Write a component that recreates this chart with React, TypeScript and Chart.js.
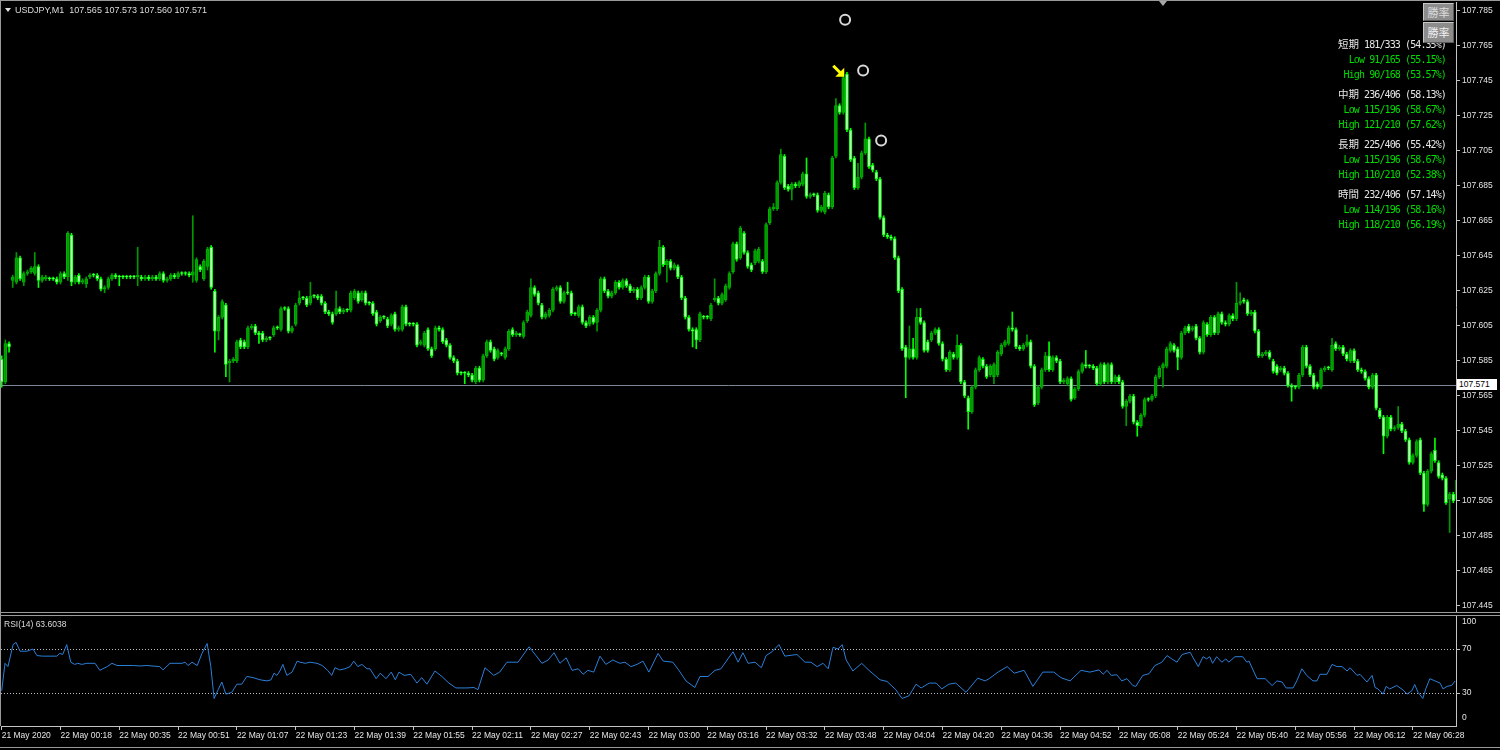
import React, { useEffect, useRef } from 'react';
import { Chart, registerables } from 'chart.js';

Chart.register(...registerables);

// ---------------- data ----------------
const opens = [
107.586,107.573,107.595,107.631,107.630,107.644,107.630,107.635,107.636,107.635,
107.639,107.631,107.632,107.632,107.632,107.632,107.630,107.635,107.633,107.657,
107.630,107.634,107.630,107.629,107.633,107.634,107.634,107.632,107.626,107.627,
107.632,107.634,107.633,107.633,107.633,107.633,107.633,107.633,107.633,107.632,
107.633,107.632,107.633,107.632,107.635,107.631,107.632,107.634,107.633,107.635,
107.635,107.635,107.634,107.631,107.639,107.632,107.639,107.650,107.625,107.602,
107.610,107.617,107.584,107.585,107.585,107.597,107.596,107.593,107.604,107.605,
107.601,107.601,107.597,107.598,107.600,107.604,107.603,107.615,107.615,107.602,
107.606,107.618,107.621,107.621,107.618,107.622,107.622,107.622,107.618,107.613,
107.612,107.612,107.615,107.613,107.614,107.614,107.621,107.624,107.620,107.624,
107.618,107.618,107.613,107.608,107.610,107.609,107.606,107.612,107.603,107.603,
107.616,107.606,107.606,107.606,107.595,107.594,107.603,107.592,107.592,107.604,
107.603,107.597,107.594,107.587,107.585,107.578,107.578,107.578,107.577,107.573,
107.581,107.574,107.588,107.596,107.592,107.587,107.589,107.587,107.592,107.603,
107.600,107.600,107.599,107.608,107.611,107.627,107.624,107.617,107.610,107.611,
107.614,107.626,107.627,107.619,107.624,107.624,107.612,107.611,107.616,107.607,
107.606,107.610,107.607,107.614,107.632,107.625,107.622,107.624,107.630,107.627,
107.631,107.628,107.625,107.626,107.621,107.627,107.633,107.619,107.625,107.635,
107.650,107.640,107.642,107.638,107.639,107.633,107.621,107.610,107.603,107.603,
107.597,107.610,107.610,107.609,107.620,107.621,107.618,107.620,107.627,107.636,
107.652,107.644,107.658,107.647,107.640,107.641,107.642,107.642,107.636,107.664,
107.672,107.672,107.687,107.702,107.685,107.683,107.686,107.685,107.686,107.692,
107.679,107.680,107.680,107.671,107.670,107.680,107.673,107.702,107.731,107.727,
107.749,107.717,107.701,107.684,107.690,107.704,107.712,107.697,107.693,107.689,
107.667,107.657,107.656,107.655,107.644,107.626,107.593,107.587,107.592,107.587,
107.610,107.607,107.596,107.597,107.601,107.603,107.595,107.586,107.580,107.589,
107.587,107.594,107.573,107.564,107.556,107.570,107.580,107.586,107.582,107.577,
107.576,107.577,107.589,107.594,107.595,107.604,107.603,107.593,107.592,107.594,
107.596,107.582,107.561,107.570,107.580,107.588,107.580,107.587,107.585,107.573,
107.572,107.575,107.564,107.569,107.579,107.583,107.582,107.582,107.581,107.572,
107.583,107.573,107.583,107.573,107.576,107.573,107.559,107.562,107.565,107.550,
107.548,107.554,107.563,107.563,107.565,107.576,107.581,107.582,107.591,107.594,
107.592,107.587,107.601,107.605,107.603,107.605,107.598,107.590,107.606,107.600,
107.610,107.601,107.612,107.607,107.606,107.611,107.609,107.618,107.620,107.619,
107.612,107.613,107.602,107.588,107.589,107.590,107.585,107.582,107.580,107.581,
107.578,107.571,107.570,107.570,107.577,107.593,107.582,107.577,107.572,107.570,
107.580,107.581,107.580,107.595,107.592,107.593,107.589,107.585,107.591,107.585,
107.580,107.579,107.575,107.570,107.577,107.557,107.553,107.542,107.553,107.546,
107.547,107.549,107.545,107.540,107.527,107.531,107.540,107.521,107.503,107.522,
107.534,107.527,107.520,107.518,107.506,107.509,107.506];

const closes = [
107.573,107.595,107.593,107.633,107.644,107.632,107.635,107.636,107.638,107.639,
107.631,107.633,107.633,107.632,107.632,107.630,107.635,107.633,107.658,107.630,
107.633,107.630,107.631,107.632,107.634,107.634,107.632,107.626,107.627,107.632,
107.634,107.633,107.633,107.633,107.633,107.633,107.633,107.634,107.632,107.633,
107.632,107.633,107.632,107.635,107.631,107.632,107.634,107.633,107.635,107.635,
107.635,107.634,107.636,107.643,107.637,107.642,107.649,107.627,107.602,107.610,
107.619,107.583,107.585,107.586,107.596,107.593,107.593,107.604,107.605,107.601,
107.600,107.597,107.598,107.598,107.604,107.604,107.615,107.615,107.602,107.604,
107.617,107.621,107.621,107.617,107.622,107.622,107.621,107.618,107.613,107.612,
107.607,107.615,107.613,107.614,107.614,107.624,107.625,107.619,107.624,107.618,
107.618,107.612,107.606,107.610,107.610,107.605,107.611,107.603,107.604,107.616,
107.606,107.606,107.606,107.594,107.596,107.601,107.592,107.588,107.604,107.603,
107.596,107.594,107.587,107.585,107.578,107.578,107.578,107.577,107.574,107.581,
107.574,107.588,107.596,107.591,107.586,107.591,107.589,107.592,107.602,107.600,
107.601,107.600,107.607,107.613,107.627,107.623,107.618,107.610,107.612,107.614,
107.626,107.627,107.619,107.624,107.624,107.612,107.612,107.616,107.607,107.605,
107.610,107.607,107.614,107.632,107.625,107.622,107.624,107.630,107.627,107.631,
107.628,107.625,107.626,107.621,107.627,107.633,107.619,107.625,107.635,107.650,
107.640,107.642,107.638,107.640,107.633,107.621,107.610,107.603,107.602,107.597,
107.612,107.610,107.610,107.617,107.621,107.618,107.623,107.628,107.635,107.652,
107.643,107.661,107.647,107.639,107.637,107.648,107.649,107.636,107.663,107.672,
107.673,107.687,107.703,107.684,107.683,107.686,107.685,107.687,107.692,107.679,
107.680,107.680,107.671,107.673,107.681,107.673,107.701,107.731,107.727,107.747,
107.717,107.700,107.684,107.690,107.704,107.712,107.696,107.694,107.689,107.667,
107.657,107.656,107.655,107.644,107.625,107.592,107.587,107.592,107.587,107.610,
107.607,107.591,107.591,107.601,107.603,107.595,107.586,107.580,107.590,107.587,
107.594,107.573,107.565,107.556,107.570,107.580,107.587,107.582,107.576,107.582,
107.583,107.590,107.594,107.596,107.604,107.603,107.593,107.592,107.594,107.596,
107.582,107.560,107.570,107.580,107.588,107.580,107.587,107.585,107.573,107.574,
107.575,107.563,107.569,107.579,107.583,107.582,107.582,107.581,107.572,107.583,
107.573,107.583,107.573,107.576,107.573,107.559,107.562,107.565,107.550,107.548,
107.554,107.563,107.563,107.565,107.576,107.581,107.583,107.592,107.595,107.591,
107.587,107.601,107.604,107.602,107.604,107.598,107.590,107.607,107.600,107.610,
107.601,107.612,107.607,107.606,107.611,107.609,107.618,107.619,107.619,107.612,
107.613,107.602,107.588,107.589,107.590,107.587,107.579,107.578,107.581,107.578,
107.571,107.570,107.570,107.577,107.593,107.582,107.577,107.570,107.570,107.580,
107.581,107.581,107.594,107.592,107.593,107.589,107.586,107.591,107.585,107.580,
107.579,107.575,107.570,107.577,107.558,107.553,107.542,107.553,107.546,107.547,
107.549,107.545,107.540,107.527,107.531,107.539,107.521,107.503,107.522,107.532,
107.528,107.519,107.518,107.504,107.509,107.505,107.517];

const highs = [
107.588,107.597,107.596,107.634,107.647,107.645,107.636,107.637,107.639,107.647,
107.640,107.634,107.634,107.633,107.633,107.633,107.636,107.636,107.659,107.658,
107.634,107.635,107.632,107.633,107.635,107.635,107.635,107.633,107.628,107.633,
107.635,107.635,107.634,107.634,107.634,107.634,107.634,107.650,107.634,107.634,
107.634,107.634,107.634,107.636,107.636,107.633,107.635,107.635,107.636,107.636,
107.636,107.636,107.668,107.644,107.640,107.643,107.650,107.651,107.626,107.611,
107.620,107.618,107.586,107.587,107.597,107.598,107.597,107.605,107.606,107.606,
107.602,107.602,107.599,107.599,107.605,107.605,107.616,107.616,107.616,107.605,
107.618,107.625,107.622,107.622,107.630,107.623,107.623,107.623,107.619,107.614,
107.613,107.625,107.616,107.615,107.615,107.625,107.626,107.625,107.625,107.625,
107.619,107.619,107.614,107.611,107.611,107.610,107.612,107.613,107.605,107.617,
107.617,107.607,107.607,107.607,107.597,107.602,107.604,107.593,107.605,107.605,
107.604,107.598,107.595,107.588,107.586,107.579,107.579,107.579,107.578,107.582,
107.582,107.589,107.597,107.597,107.593,107.592,107.590,107.593,107.603,107.604,
107.602,107.601,107.608,107.614,107.632,107.628,107.625,107.618,107.613,107.615,
107.627,107.628,107.628,107.625,107.630,107.625,107.613,107.617,107.617,107.608,
107.611,107.611,107.615,107.633,107.633,107.626,107.625,107.631,107.631,107.632,
107.632,107.629,107.627,107.627,107.628,107.634,107.634,107.626,107.636,107.654,
107.651,107.643,107.643,107.641,107.640,107.634,107.622,107.611,107.604,107.604,
107.613,107.611,107.611,107.618,107.632,107.622,107.624,107.629,107.636,107.653,
107.653,107.662,107.659,107.648,107.641,107.649,107.650,107.643,107.664,107.673,
107.675,107.688,107.706,107.703,107.686,107.687,107.687,107.688,107.693,107.701,
107.681,107.681,107.681,107.674,107.682,107.681,107.702,107.735,107.732,107.748,
107.750,107.718,107.702,107.698,107.705,107.721,107.713,107.698,107.694,107.690,
107.668,107.658,107.657,107.656,107.645,107.627,107.594,107.605,107.598,107.615,
107.615,107.608,107.597,107.602,107.604,107.604,107.596,107.587,107.591,107.590,
107.600,107.595,107.574,107.565,107.571,107.581,107.588,107.587,107.583,107.583,
107.584,107.591,107.595,107.597,107.605,107.613,107.604,107.594,107.595,107.600,
107.597,107.583,107.571,107.581,107.590,107.596,107.588,107.588,107.586,107.575,
107.576,107.576,107.570,107.580,107.584,107.591,107.583,107.583,107.582,107.584,
107.584,107.584,107.584,107.577,107.577,107.574,107.563,107.566,107.566,107.551,
107.555,107.564,107.564,107.566,107.577,107.582,107.584,107.593,107.596,107.595,
107.593,107.602,107.605,107.606,107.605,107.606,107.599,107.608,107.607,107.611,
107.611,107.613,107.613,107.608,107.612,107.612,107.630,107.624,107.621,107.620,
107.614,107.614,107.603,107.590,107.591,107.591,107.586,107.583,107.582,107.582,
107.579,107.572,107.571,107.578,107.594,107.594,107.583,107.578,107.573,107.581,
107.582,107.582,107.598,107.596,107.594,107.594,107.590,107.592,107.592,107.586,
107.581,107.580,107.576,107.578,107.578,107.558,107.554,107.554,107.554,107.548,
107.559,107.550,107.546,107.541,107.532,107.540,107.541,107.522,107.523,107.533,
107.541,107.528,107.521,107.519,107.510,107.510,107.518];

const lows = [
107.570,107.572,107.590,107.627,107.629,107.631,107.628,107.634,107.635,107.634,
107.627,107.630,107.631,107.631,107.631,107.629,107.629,107.632,107.631,107.628,
107.629,107.629,107.629,107.627,107.632,107.633,107.631,107.625,107.624,107.626,
107.631,107.632,107.628,107.632,107.632,107.632,107.632,107.628,107.631,107.631,
107.631,107.631,107.631,107.631,107.630,107.630,107.631,107.632,107.632,107.634,
107.634,107.633,107.630,107.630,107.636,107.631,107.637,107.626,107.590,107.597,
107.609,107.576,107.573,107.584,107.584,107.592,107.592,107.592,107.603,107.600,
107.595,107.596,107.596,107.597,107.599,107.603,107.602,107.614,107.601,107.601,
107.605,107.617,107.620,107.616,107.617,107.621,107.620,107.617,107.612,107.611,
107.606,107.611,107.612,107.612,107.613,107.613,107.620,107.618,107.619,107.617,
107.617,107.611,107.605,107.607,107.609,107.604,107.605,107.602,107.602,107.602,
107.605,107.605,107.605,107.593,107.594,107.593,107.591,107.587,107.591,107.602,
107.595,107.593,107.586,107.584,107.577,107.577,107.572,107.576,107.573,107.572,
107.573,107.573,107.587,107.590,107.585,107.586,107.588,107.586,107.591,107.599,
107.599,107.599,107.598,107.607,107.610,107.622,107.617,107.609,107.609,107.610,
107.613,107.625,107.618,107.618,107.623,107.611,107.611,107.610,107.606,107.604,
107.605,107.606,107.602,107.613,107.624,107.621,107.621,107.623,107.626,107.626,
107.627,107.624,107.624,107.620,107.620,107.626,107.618,107.618,107.624,107.634,
107.639,107.630,107.637,107.637,107.632,107.620,107.609,107.602,107.593,107.592,
107.596,107.609,107.609,107.608,107.619,107.617,107.617,107.619,107.626,107.635,
107.642,107.643,107.646,107.638,107.636,107.640,107.641,107.635,107.635,107.663,
107.671,107.671,107.686,107.683,107.682,107.677,107.684,107.684,107.685,107.678,
107.678,107.679,107.670,107.670,107.669,107.672,107.672,107.701,107.726,107.726,
107.716,107.699,107.683,107.683,107.689,107.703,107.695,107.693,107.688,107.666,
107.656,107.655,107.654,107.643,107.624,107.591,107.564,107.586,107.586,107.586,
107.606,107.590,107.590,107.596,107.600,107.594,107.585,107.579,107.579,107.586,
107.586,107.572,107.564,107.546,107.555,107.569,107.579,107.581,107.575,107.576,
107.572,107.576,107.588,107.593,107.594,107.602,107.592,107.591,107.591,107.593,
107.581,107.559,107.560,107.569,107.579,107.579,107.579,107.584,107.572,107.572,
107.571,107.562,107.563,107.568,107.578,107.581,107.581,107.580,107.571,107.571,
107.572,107.572,107.572,107.572,107.572,107.558,107.548,107.561,107.549,107.542,
107.547,107.553,107.562,107.562,107.564,107.575,107.570,107.581,107.590,107.590,
107.580,107.586,107.600,107.601,107.602,107.597,107.589,107.589,107.599,107.599,
107.600,107.600,107.606,107.605,107.605,107.608,107.608,107.617,107.618,107.611,
107.611,107.601,107.587,107.587,107.588,107.586,107.578,107.577,107.579,107.577,
107.570,107.562,107.569,107.569,107.576,107.581,107.576,107.569,107.569,107.569,
107.579,107.580,107.579,107.591,107.591,107.588,107.585,107.584,107.584,107.579,
107.578,107.574,107.569,107.569,107.557,107.552,107.532,107.541,107.545,107.545,
107.546,107.544,107.539,107.526,107.526,107.530,107.520,107.499,107.502,107.521,
107.527,107.518,107.517,107.503,107.487,107.504,107.505];

// RSI(14) readings: bar position and value
const rsiAt = [
0.0,0.9,1.7,3.1,3.9,5.0,6.9,8.5,9.6,11.2,
15.0,15.8,16.6,17.7,18.8,19.9,20.7,21.8,23.2,25.4,
26.7,28.7,30.0,31.4,35.8,37.6,39.5,43.0,43.9,45.8,
49.1,49.9,50.7,51.8,53.2,54.5,55.9,56.9,57.8,58.9,
59.9,61.0,62.6,64.0,65.3,66.7,68.4,70.3,72.2,73.3,
74.1,74.9,75.7,76.5,77.6,79.0,80.4,81.2,82.6,83.9,
85.8,87.2,88.7,89.8,90.7,92.0,93.4,94.8,95.8,96.9,
98.0,99.4,100.2,101.9,103.0,104.6,106.0,107.1,108.1,
109.5,111.3,113.0,114.3,115.7,117.9,119.8,121.7,123.6,126.6,
128.5,129.6,131.5,133.9,135.5,137.5,140.5,143.5,145.4,147.0,
148.7,150.3,151.9,153.6,155.2,156.9,158.2,159.5,161.1,162.8,
164.4,166.3,168.2,169.6,171.2,172.9,174.5,176.1,178.6,180.0,
182.6,184.2,186.2,188.6,190.0,192.2,194.1,195.7,199.0,200.4,
201.7,203.1,205.0,206.7,208.0,209.6,211.5,213.1,216.4,218.6,
220.2,221.9,223.5,224.9,226.2,227.6,228.7,229.8,231.6,234.0,
236.0,239.0,240.9,243.3,245.0,246.9,248.8,250.2,252.4,254.3,
255.8,257.7,259.6,262.4,265.6,267.6,268.7,271.1,273.6,275.5,
278.2,280.6,283.3,286.3,288.2,290.7,293.7,296.1,298.6,
299.7,300.8,301.9,303.4,304.8,306.2,307.8,308.6,310.5,312.2,
313.8,315.7,317.1,318.4,319.8,321.2,323.4,324.2,325.6,326.9,
327.9,328.7,329.5,330.6,332.0,333.1,333.9,335.6,337.7,338.8,
339.4,341.6,343.8,345.7,347.0,348.4,349.5,351.4,352.4,353.8,
355.1,356.8,357.9,358.7,360.6,362.0,363.3,364.7,366.1,366.9,
368.8,369.6,371.5,372.9,373.7,374.5,375.9,376.7,377.7,379.6,
381.3,382.4,383.7,384.5,385.4,386.7,387.5,388.6,390.0,391.4,
392.2,393.3,394.6,395.5];
const rsiVal = [
32,57,54,74,76,68,68,70,64,63.5,
63.5,66,65,74,58,56,57,56,57,57,
50.6,54,57,55,55,54.6,55,54,51,57,
57,58,55,58,55,66,75,54,25,33,
40,29,30.6,38,38,45,44,42,41,42,
48,46,50,56,46,49,59,58,57,58,
57,55,50.6,46,53,51,52,54,59,54,
56,52,52,43,48,43,49,42,49,
46,47,39,44,38,50,45,39,34.6,34.6,
35,33,53,46,49,58,58,72,64,57,
60,66.6,57,62,50.6,52,47,50.6,49,63.5,
56,60,57,58,54,56,59,49,66,59,
58,51,41,35,45,45,50.6,52,67.5,58,
66.6,57,58,53,64,67.5,74,63.5,65,58,
58,54,57,52,71.5,70,74,60,50,57,
50.6,42,40.5,33,25,27.5,38,34.6,39,39,
33.7,38,39,30.6,43.5,41,43,49,54,48,
50.6,36,49,49,44,41,50.6,49,51,
47,50.6,46,46.6,41,43,36.8,36,46,47.5,
55,58,64,61,58,65,67,62,54,63,
61,63,57,63,58,61,58,63,63,58,
59,43,43,36.8,41,40,34.6,34.6,41,52,
46,41,41,47,47,56,54,54,50,53,
46,47,40,46,35,33.7,29,36,33.7,36.8,
32.8,29,32,37.7,30.6,25,33.7,43,41,39,
33.7,36,37,41];
const rsiLevels = [30, 70];
const rsiMainTicks = [70, 30];
const rsiEdgeTicks = [100, 0];

const priceTicks = [107.445,107.465,107.485,107.505,107.525,107.545,107.565,107.585,107.605,
  107.625,107.645,107.665,107.685,107.705,107.725,107.745,107.765,107.785];
const timeLabels = ['21 May 2020','22 May 00:18','22 May 00:35','22 May 00:51','22 May 01:07',
  '22 May 01:23','22 May 01:39','22 May 01:55','22 May 02:11','22 May 02:27','22 May 02:43',
  '22 May 03:00','22 May 03:16','22 May 03:32','22 May 03:48','22 May 04:04','22 May 04:20',
  '22 May 04:36','22 May 04:52','22 May 05:08','22 May 05:24','22 May 05:40','22 May 05:56',
  '22 May 06:12','22 May 06:28'];
const labelEvery = 16; // bars between time labels

const markerAt = [229.5, 234.4, 239.3];
const markerPrice = [107.780, 107.751, 107.711];
const arrowAt = 229.0;
const arrowPrice = 107.748;
const bidPrice = 107.571;

const headerText = 'USDJPY,M1  107.565 107.573 107.560 107.571';
const rsiTitle = 'RSI(14) 63.6038';
const statNames = ['短期', '中期', '長期', '時間'];
const statAll = ['181/333 (54.35%)', '236/406 (58.13%)', '225/406 (55.42%)', '232/406 (57.14%)'];
const statLow = ['91/165 (55.15%)', '115/196 (58.67%)', '115/196 (58.67%)', '114/196 (58.16%)'];
const statHigh = ['90/168 (53.57%)', '121/210 (57.62%)', '110/210 (52.38%)', '118/210 (56.19%)'];
const buttonLabel = '勝率';

// ---------------- styling ----------------
const X_MIN = -0.19;
const X_MAX = 395.73;
const Y_MIN = 107.44157;
const Y_MAX = 107.79014;
const AXIS_COLOR = '#c4c4c4';
const TEXT_COLOR = '#e4e4e4';
const FRAME = '#9a9a9a';
const BULL_FILL = '#009a00';
const BULL_LINE = '#00b400';
const BEAR_FILL = '#b8ffb8';
const BEAR_LINE = '#00ff00';
const GREEN_TEXT = '#00dd00';
const AXIS_FONT = { family: 'Liberation Sans', size: 8.5 };

export default function App() {
  const mainRef = useRef(null);
  const rsiRef = useRef(null);

  useEffect(() => {
    document.body.style.margin = '0';
    document.body.style.background = '#000';

    const bull = opens.map((o, i) => closes[i] > o);
    const wickData = opens.map((o, i) => ({ x: i, y: [lows[i], highs[i]] }));
    const bodyData = opens.map((o, i) => ({ x: i, y: [Math.min(o, closes[i]), Math.max(o, closes[i])] }));

    const mainPlugin = {
      id: 'mainOverlay',
      beforeDatasetsDraw(chart) {
        const { ctx, chartArea, scales } = chart;
        const y = Math.round(scales.y.getPixelForValue(bidPrice)) + 0.5;
        ctx.save();
        ctx.strokeStyle = '#7a8796';
        ctx.lineWidth = 1;
        ctx.beginPath();
        ctx.moveTo(chartArea.left, y);
        ctx.lineTo(chartArea.right, y);
        ctx.stroke();
        ctx.restore();
      },
      afterDatasetsDraw(chart) {
        const { ctx, scales } = chart;
        const tx = scales.x.getPixelForValue(arrowAt);
        const ty = scales.y.getPixelForValue(arrowPrice);
        ctx.save();
        ctx.strokeStyle = '#ffff00';
        ctx.fillStyle = '#ffff00';
        ctx.lineWidth = 3;
        ctx.lineCap = 'butt';
        ctx.beginPath();
        ctx.moveTo(tx - 10, ty - 10);
        ctx.lineTo(tx - 3, ty - 3);
        ctx.stroke();
        ctx.beginPath();
        ctx.moveTo(tx + 1, ty + 1);
        ctx.lineTo(tx - 8, ty + 1);
        ctx.lineTo(tx + 1, ty - 8);
        ctx.closePath();
        ctx.fill();
        ctx.restore();
      },
    };

    const main = new Chart(mainRef.current, {
      type: 'bar',
      data: {
        datasets: [
          {
            type: 'bar', data: wickData, barThickness: 1, grouped: false, order: 2,
            backgroundColor: bull.map((b) => (b ? BULL_FILL : BEAR_LINE)), borderWidth: 0,
          },
          {
            type: 'bar', data: bodyData, barThickness: 3, grouped: false, order: 1, minBarLength: 1,
            backgroundColor: bull.map((b) => (b ? BULL_FILL : BEAR_FILL)),
            borderColor: bull.map((b) => (b ? BULL_LINE : BEAR_LINE)),
            borderWidth: 1, borderSkipped: false,
          },
          {
            type: 'line', order: 0, showLine: false,
            data: markerAt.map((x, i) => ({ x, y: markerPrice[i] })),
            pointRadius: 5, pointBorderWidth: 2, pointBorderColor: '#d8d8d8',
            pointBackgroundColor: 'rgba(0,0,0,0)',
          },
        ],
      },
      options: {
        animation: false, responsive: false, maintainAspectRatio: false, events: [],
        layout: { autoPadding: false, padding: { left: 1, top: 2, bottom: 2, right: 0 } },
        plugins: { legend: { display: false }, tooltip: { enabled: false } },
        scales: {
          x: { type: 'linear', min: X_MIN, max: X_MAX, display: false, offset: false },
          y: {
            position: 'right', min: Y_MIN, max: Y_MAX,
            afterBuildTicks: (s) => { s.ticks = priceTicks.map((v) => ({ value: v })); },
            afterFit: (s) => { s.width = 44; s.paddingTop = 0; s.paddingBottom = 0; },
            ticks: { callback: (v) => Number(v).toFixed(3), color: TEXT_COLOR, font: AXIS_FONT, padding: 2, autoSkip: false },
            grid: { drawOnChartArea: false, drawTicks: true, tickLength: 4, color: AXIS_COLOR },
            border: { display: true, color: AXIS_COLOR },
          },
        },
      },
      plugins: [mainPlugin],
    });

    const rsiPlugin = {
      id: 'rsiLevels',
      afterLayout(chart) {
        // the edge-label axis takes no layout space; give it room to draw its labels
        const s = chart.scales.y2;
        if (s) { s.right = s.left + 44; s.width = 44; }
      },
      beforeDatasetsDraw(chart) {
        const { ctx, chartArea, scales } = chart;
        ctx.save();
        ctx.strokeStyle = '#bcbcbc';
        ctx.lineWidth = 1;
        ctx.setLineDash([1, 2]);
        rsiLevels.forEach((lv) => {
          const y = Math.round(scales.y.getPixelForValue(lv)) + 0.5;
          ctx.beginPath();
          ctx.moveTo(chartArea.left, y);
          ctx.lineTo(chartArea.right, y);
          ctx.stroke();
        });
        ctx.restore();
      },
    };

    const rsi = new Chart(rsiRef.current, {
      type: 'line',
      data: {
        datasets: [{
          data: rsiAt.map((x, i) => ({ x, y: rsiVal[i] })),
          borderColor: '#2b7fd8', borderWidth: 1, pointRadius: 0, tension: 0,
        }],
      },
      options: {
        animation: false, responsive: false, maintainAspectRatio: false, events: [],
        layout: { autoPadding: false, padding: { left: 1, top: 2, bottom: 0, right: 0 } },
        plugins: { legend: { display: false }, tooltip: { enabled: false } },
        scales: {
          x: {
            type: 'linear', min: X_MIN, max: X_MAX, position: 'bottom', offset: false,
            afterBuildTicks: (s) => { s.ticks = timeLabels.map((_, i) => ({ value: i * labelEvery })); },
            afterFit: (s) => { s.height = 24; s.paddingLeft = 0; s.paddingRight = 0; },
            ticks: {
              callback: (v, i) => timeLabels[i], align: 'start', autoSkip: false,
              maxRotation: 0, minRotation: 0, padding: 1, color: TEXT_COLOR, font: AXIS_FONT,
            },
            grid: { drawOnChartArea: false, drawTicks: true, tickLength: 4, color: AXIS_COLOR },
            border: { display: true, color: AXIS_COLOR },
          },
          y: {
            position: 'right', weight: 1, min: 0, max: 100,
            afterBuildTicks: (s) => { s.ticks = rsiMainTicks.map((v) => ({ value: v })); },
            afterFit: (s) => { s.width = 44; s.paddingTop = 0; s.paddingBottom = 0; },
            ticks: { callback: (v) => String(v), color: TEXT_COLOR, font: AXIS_FONT, padding: 2 },
            grid: { drawOnChartArea: false, drawTicks: true, tickLength: 4, color: AXIS_COLOR },
            border: { display: true, color: AXIS_COLOR },
          },
          y2: {
            position: 'right', weight: 0, min: -8.33, max: 106.25,
            afterBuildTicks: (s) => { s.ticks = rsiEdgeTicks.map((v) => ({ value: v })); },
            afterFit: (s) => { s.width = 0; s.paddingTop = 0; s.paddingBottom = 0; },
            ticks: { callback: (v) => String(v), color: TEXT_COLOR, font: AXIS_FONT, padding: 6 },
            grid: { display: false, drawTicks: false },
            border: { display: false },
          },
        },
      },
      plugins: [rsiPlugin],
    });

    return () => { main.destroy(); rsi.destroy(); };
  }, []);

  const hline = (left, top, width, color = FRAME) => (
    <div style={{ position: 'absolute', left, top, width, height: 1, background: color }} />
  );
  const vline = (left, top, height, color = FRAME) => (
    <div style={{ position: 'absolute', left, top, width: 1, height, background: color }} />
  );
  const mono = { fontFamily: '"DejaVu Sans Mono", monospace', fontSize: 10, letterSpacing: -0.9 };
  const cjk = { fontFamily: '"Noto Sans CJK JP", sans-serif', fontSize: 10.5 };
  const lineStyle = { height: 15, lineHeight: '15px', whiteSpace: 'pre' };
  const btn = (top, height, color) => ({
    position: 'absolute', left: 1423, top, width: 31, height, background: '#8c8c8c',
    borderTop: '1px solid #c8c8c8', borderLeft: '1px solid #c8c8c8',
    borderRight: '1px solid #5a5a5a', borderBottom: '1px solid #5a5a5a', boxSizing: 'border-box',
    color, fontFamily: '"Noto Sans CJK JP", sans-serif', fontSize: 11, textAlign: 'center',
    lineHeight: `${height - 2}px`,
  });

  return (
    <div style={{ position: 'relative', width: 1500, height: 750, background: '#000', overflow: 'hidden' }}>
      <canvas ref={mainRef} width={1500} height={614} style={{ position: 'absolute', left: 0, top: 0, display: 'block' }} />
      <canvas ref={rsiRef} width={1500} height={136} style={{ position: 'absolute', left: 0, top: 614, display: 'block' }} />

      {hline(0, 0, 1500)}
      {vline(0, 0, 726)}
      {hline(0, 612, 1500)}
      {hline(0, 615, 1500)}
      {hline(0, 747, 1500)}

      <div style={{ position: 'absolute', left: 1159, top: 1, width: 0, height: 0,
        borderLeft: '4px solid transparent', borderRight: '4px solid transparent', borderTop: '5px solid #a8a8a8' }} />

      <div style={{ position: 'absolute', left: 5, top: 8, width: 0, height: 0,
        borderLeft: '3px solid transparent', borderRight: '3px solid transparent', borderTop: '4px solid #e0e0e0' }} />
      <div style={{ position: 'absolute', left: 15, top: 4, fontFamily: '"Liberation Sans", sans-serif',
        fontSize: 9, lineHeight: '12px', color: '#dcdcdc', whiteSpace: 'pre' }}>{headerText}</div>

      <div style={{ position: 'absolute', left: 4, top: 618, fontFamily: '"Liberation Sans", sans-serif',
        fontSize: 8.5, lineHeight: '12px', color: '#dcdcdc', whiteSpace: 'pre' }}>{rsiTitle}</div>

      <div style={{ position: 'absolute', left: 1457, top: 379, width: 40, height: 11, background: '#ffffff',
        color: '#000', fontFamily: '"Liberation Sans", sans-serif', fontSize: 8.5, lineHeight: '11px',
        paddingLeft: 2, boxSizing: 'border-box' }}>{bidPrice.toFixed(3)}</div>

      <div style={{ position: 'absolute', right: 54, top: 35, textAlign: 'right' }}>
        {statNames.map((nm, i) => (
          <div key={nm} style={{ marginBottom: 5 }}>
            <div style={{ ...lineStyle, color: '#e6e6e6' }}>
              <span style={cjk}>{nm}</span><span style={mono}>{' ' + statAll[i]}</span>
            </div>
            <div style={{ ...lineStyle, color: GREEN_TEXT }}><span style={mono}>{'Low ' + statLow[i]}</span></div>
            <div style={{ ...lineStyle, color: GREEN_TEXT }}><span style={mono}>{'High ' + statHigh[i]}</span></div>
          </div>
        ))}
      </div>

      <div style={btn(3, 18, '#dcdcdc')}>{buttonLabel}</div>
      <div style={btn(22, 21, '#f0f0f0')}>{buttonLabel}</div>
    </div>
  );
}
